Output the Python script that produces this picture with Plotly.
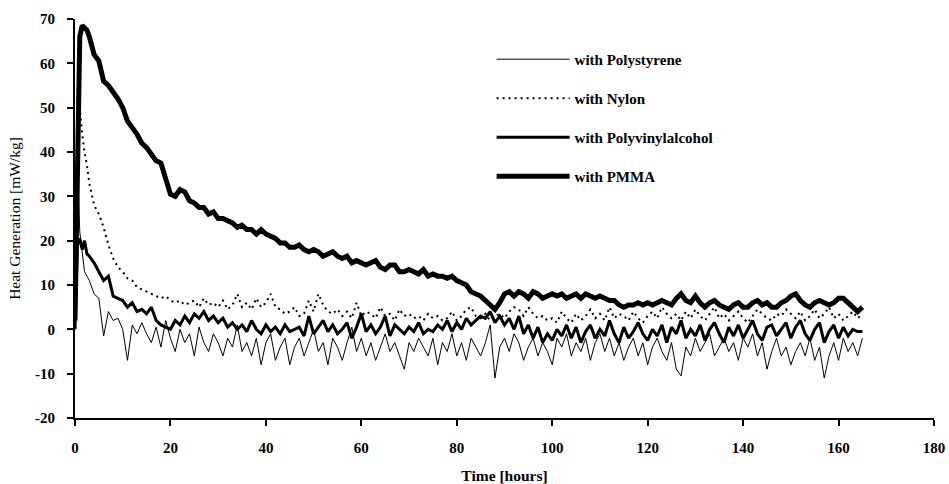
import plotly.graph_objects as go

# Time axis (hours)
time_h = [0, 0.5, 1, 1.5, 2, 2.5, 3] + list(range(4, 166))

pmma = [
    2, 45, 66, 68.5, 68, 67.5, 66,
    62, 60.5, 56, 55, 53.5, 52, 50, 47, 45.5, 44,          # 4-13
    42, 41, 39.5, 38, 37.5, 34, 30.5, 30, 31.5, 31,        # 14-23
    29, 28.5, 27.5, 27.5, 26, 26.5, 25, 25, 24.5, 24,      # 24-33
    23, 23.5, 22.5, 22.5, 21.5, 22.5, 21.5, 21, 20.5, 19.5,  # 34-43
    19.5, 18.5, 18.5, 19, 18, 17.5, 18, 17.5, 16.5, 17,    # 44-53
    17.5, 16.5, 16, 16.5, 15, 15.5, 15, 14.5, 15, 15.5,    # 54-63
    14, 13.5, 14.5, 14.5, 13, 13, 13.5, 13, 12.5, 13.5,    # 64-73
    12, 12.5, 12, 12, 11.5, 12, 11, 10.5, 10, 8.5,         # 74-83
    8, 7.5, 6.5, 5.5, 4.5, 6, 8, 8.5, 7.5, 8.5,            # 84-93
    8, 7, 8.5, 8, 7, 7.5, 8, 7.5, 8, 7,                    # 94-103
    7.5, 8, 7, 8, 7.5, 7, 7.5, 7, 6.5, 6.5,                # 104-113
    5.5, 5, 5.5, 5.5, 6, 5.5, 6, 5.5, 6, 6.5,              # 114-123
    6, 5.5, 7, 8, 6.5, 6, 7.5, 6, 5, 6,                    # 124-133
    6.5, 5.5, 5, 4.5, 5.5, 6, 5, 5, 6, 6.5,                # 134-143
    5.5, 6, 5, 5, 6, 6.5, 7.5, 8, 6.5, 5.5,                # 144-153
    5, 6, 6.5, 6, 5.5, 6, 7, 7, 6, 5,                      # 154-163
    4, 5,                                                  # 164-165
]

nylon = [
    5, 54, 50, 44, 40, 37, 33,
    28, 26, 23, 19, 16, 14, 13, 11.5, 11, 9.5,             # 4-13
    9, 8.5, 8, 7.5, 7, 7.5, 6.5, 6, 6.5, 5.5,              # 14-23
    6, 6.5, 5, 7, 5.5, 6, 5, 6.5, 4.5, 5.5,                # 24-33
    8, 5, 6, 4.5, 7, 5, 6, 8, 5, 4.5,                      # 34-43
    3.5, 4, 5, 3, 3.5, 6.5, 4, 8, 5.5, 4,                  # 44-53
    3.5, 4.5, 3, 4, 2.5, 6, 3, 4, 3.5, 2.5,                # 54-63
    5, 3, 3.5, 2, 4.5, 3, 3.5, 2.5, 3, 2,                  # 64-73
    3.5, 2.5, 3, 2, 2.5, 4, 2, 3, 4.5, 5,                  # 74-83
    3, 2.5, 3.5, 2, 3, 3.5, 2.5, 4, 5, 4.5,                # 84-93
    3, 5, 3.5, 2.5, 3, 2, 2.5, 1.5, 4, 2.5,                # 94-103
    1.5, 3.5, 2, 3, 4.5, 2.5, 3.5, 2, 5, 2.5,              # 104-113
    3.5, 3, 2, 4, 2.5, 1.5, 3, 4, 2.5, 5,                  # 114-123
    3.5, 2.5, 3.5, 2, 4, 2.5, 4.5, 3, 2, 3.5,              # 124-133
    5, 2.5, 3.5, 2, 3, 4, 2.5, 1.5, 3, 4.5,                # 134-143
    3.5, 2.5, 2, 3.5, 3, 4.5, 3.5, 2.5, 4, 2,              # 144-153
    3, 4.5, 2.5, 3.5, 5, 2.5, 3.5, 2, 3, 4,                # 154-163
    2.5, 3.5,                                              # 164-165
]

pva = [
    0, 19, 20.5, 18, 20, 17, 16.5,
    15, 13, 11, 12, 7.5, 7, 6.5, 5, 6, 4,                  # 4-13
    4.5, 3.5, 5, 2, 1, 0.5, 0, 2, 1, 3,                    # 14-23
    1.5, 3.5, 2.5, 4, 2, 3, 1.5, 2.5, 0.5, 1.5,            # 24-33
    0, 1, -0.5, 2, 0, -1, 1, -0.5, 0.5, -1,                # 34-43
    1, -0.5, 0, 0.5, -1.5, 3, -1, 0.5, 2, -0.5,            # 44-53
    1, -1, 0, 1.5, -2, 0.5, 3.5, -0.5, 1, -1,              # 54-63
    0.5, 3, -1.5, 1, 0, -1, 0.5, -0.5, 1.5, -1,            # 64-73
    0, -0.5, 1, 0, 2, -0.5, 1.5, 0, 2.5, 1,                # 74-83
    2, 3, 2.5, 4, 1.5, 3, 1, 2.5, 0, 3,                    # 84-93
    -1, 1, -2, 0.5, -3, -1, -2.5, 0, -1.5, 1,              # 94-103
    -2, 0.5, -3, -0.5, 1, -2, 0, -1.5, 2, -1,              # 104-113
    -3, 0.5, -2, -0.5, 1.5, -1, -2.5, 0, -1.5, 1,          # 114-123
    -3, 0.5, -1, 2, -2, 0, -1.5, 1, -2.5, 0,               # 124-133
    1.5, -1, -3, 0.5, -1.5, 1, -2, 0, 2, -1,               # 134-143
    -2.5, 0.5, 1, -1.5, 0, 1.5, -2, 0.5, 2, -1,            # 144-153
    -2.5, 0, 1.5, -3, -0.5, 1, -2, 0.5, -1.5, 0,           # 154-163
    -0.5, -0.5,                                            # 164-165
]

polystyrene = [
    0, 38, 22, 18, 13, 12, 11,
    8, 7, -1.5, 4, 2, 2.5, 0, -7, 1, -1,                   # 4-13
    1.5, -1, -3, 0.5, -4, 2, -2, -5, 0, -3,                # 14-23
    -1, -6, 0.5, -3, -5, -1, -3, -6, -2, -4,               # 24-33
    1, -5, -3, -6, -2, -8, -3, -1, -7, -4,                 # 34-43
    -2, -8, -4, -2, -6, -3, 0, -5, -3, -8,                 # 44-53
    -2, -4, -7, -3, 0.5, -5, -2, -6, -3, -7,               # 54-63
    -4, -1, -5, -3, -6, -9, -3, -5, -2, -4,                # 64-73
    -6, -2, -8, -3, -5, -1, -6, -3, -7, -2,                # 74-83
    -4, -6, -3, 1, -11, -4, -2, -5, -1, -3,                # 84-93
    -7, -4, -2, -6, -3, -5, -8, -2, -4, -1,                # 94-103
    -6, -3, -5, -2, -7, -3, -1, -5, -2, -6,                # 104-113
    -3, -7, -4, -2, -6, -3, -8, -4, -2, -5,                # 114-123
    -7, -3, -9, -10.5, -4, -6, -2, -5, -3, -1,             # 124-133
    -6, -4, -2, -5, -3, -7, -2, -4, -1, -6,                # 134-143
    -3, -9, -5, -2, -6, -4, -8, -5, -3, -6,                # 144-153
    -2, -7, -4, -11, -6, -3, -7, -2, -5, -3,               # 154-163
    -6, -2,                                                # 164-165
]

series_names = ["with Polystyrene", "with Nylon", "with Polyvinylalcohol", "with PMMA"]
x_ticks = [0, 20, 40, 60, 80, 100, 120, 140, 160, 180]
y_ticks = [-20, -10, 0, 10, 20, 30, 40, 50, 60, 70]

FONT = "Liberation Serif"

fig = go.Figure()
styles = [
    (polystyrene, dict(color="black", width=1)),
    (nylon, dict(color="black", width=2, dash="2px,4px")),
    (pva, dict(color="black", width=3)),
    (pmma, dict(color="black", width=5)),
]
for i, (vals, ln) in enumerate(styles):
    fig.add_trace(go.Scatter(
        x=time_h, y=vals, mode="lines", name=series_names[i],
        line=ln, legendgroup=f"g{i}",
    ))

axis_common = dict(
    showgrid=False, zeroline=False, showline=True, linecolor="black",
    linewidth=2, ticks="outside", ticklen=6, tickwidth=2, tickcolor="black",
    automargin=False,
)

fig.update_layout(
    width=949, height=484,
    margin=dict(l=75, r=15, t=19, b=66),
    paper_bgcolor="white", plot_bgcolor="white",
    font=dict(family=FONT, size=15, color="black"),
    showlegend=True,
    legend=dict(
        x=0.485, y=0.94, xanchor="left", yanchor="top",
        traceorder="grouped", tracegroupgap=16.5,
        font=dict(family=FONT, size=15, color="black", weight="bold"),
        itemwidth=73, bgcolor="rgba(0,0,0,0)",
    ),
    xaxis=dict(
        range=[0, 180], tickvals=x_ticks, ticktext=[str(v) for v in x_ticks],
        tickfont=dict(family=FONT, size=15, weight="bold"),
        ticklabelstandoff=9,
        title=dict(text="Time [hours]", font=dict(family=FONT, size=15.5, weight="bold"), standoff=16),
        **axis_common,
    ),
    yaxis=dict(
        range=[-20, 70], tickvals=y_ticks, ticktext=[str(v) for v in y_ticks],
        tickfont=dict(family=FONT, size=15, weight="bold"),
        ticklabelstandoff=9,
        title=dict(text="Heat Generation [mW/kg]", font=dict(family=FONT, size=15.5), standoff=11),
        **axis_common,
    ),
    xaxis2=dict(
        overlaying="x", anchor="y", range=[0, 180], tickvals=x_ticks,
        showticklabels=False, showgrid=False, zeroline=False, showline=False,
        ticks="inside", ticklen=6, tickwidth=2, tickcolor="black", side="bottom",
        automargin=False,
    ),
    yaxis2=dict(
        overlaying="y", anchor="x", range=[-20, 70], tickvals=y_ticks,
        showticklabels=False, showgrid=False, zeroline=False, showline=False,
        ticks="inside", ticklen=6, tickwidth=2, tickcolor="black", side="left",
        automargin=False,
    ),
)

# remove the default 8px page margin so the figure fills the window exactly
fig.write_html(
    "out.html",
    config={"displayModeBar": False},
    post_script="document.body.style.margin='0';document.body.style.overflow='hidden';",
)
